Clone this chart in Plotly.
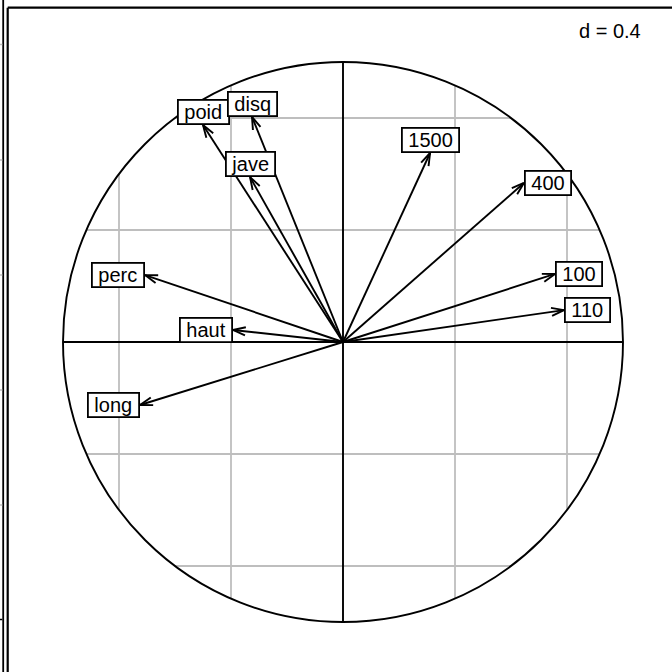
import numpy as np
import plotly.graph_objects as go

# Correlation circle data (axis 1, axis 2)
labels = ["100", "long", "poid", "haut", "400", "110", "disq", "perc", "jave", "1500"]
comp1 = [0.757, -0.725, -0.500, -0.393, 0.646, 0.789, -0.325, -0.707, -0.332, 0.311]
comp2 = [0.243, -0.225, 0.775, 0.043, 0.568, 0.114, 0.804, 0.239, 0.589, 0.675]
grid_step = 0.4

W = H = 672
cx, cy, R = 343.0, 342.0, 280.0  # pixel centre and radius of the unit circle
xr = [-cx / R, (W - cx) / R]
yr = [-(H - cy) / R, cy / R]

fig = go.Figure()
shapes = []
LW = 1.9

# grid lines clipped to the circle
gv = [k * grid_step for k in range(-int(1 / grid_step), int(1 / grid_step) + 1) if k != 0]
for v in gv:
    h = np.sqrt(1 - v * v)
    shapes.append(dict(type="line", x0=v, x1=v, y0=-h, y1=h, xref="x", yref="y",
                       line=dict(color="#BEBEBE", width=1.8), layer="below"))
    shapes.append(dict(type="line", y0=v, y1=v, x0=-h, x1=h, xref="x", yref="y",
                       line=dict(color="#BEBEBE", width=1.8), layer="below"))
# axes through origin
shapes.append(dict(type="line", x0=-1, x1=1, y0=0, y1=0, xref="x", yref="y",
                   line=dict(color="black", width=LW), layer="below"))
shapes.append(dict(type="line", x0=0, x1=0, y0=-1, y1=1, xref="x", yref="y",
                   line=dict(color="black", width=LW), layer="below"))
# circle
shapes.append(dict(type="circle", x0=-1, x1=1, y0=-1, y1=1, xref="x", yref="y",
                   line=dict(color="black", width=LW), layer="below"))

# frame (top and left edges) and neighbouring panel remnant
def px(x):
    return x / W

def py(y):
    return 1 - y / H

shapes.append(dict(type="line", xref="paper", yref="paper", x0=px(7.7), x1=1.0, y0=py(7.7), y1=py(7.7),
                   line=dict(color="black", width=2.2)))
shapes.append(dict(type="line", xref="paper", yref="paper", x0=px(7.7), x1=px(7.7), y0=py(7.7), y1=0,
                   line=dict(color="black", width=2.2)))
shapes.append(dict(type="line", xref="paper", yref="paper", x0=px(3.2), x1=px(3.2), y0=1, y1=0,
                   line=dict(color="black", width=1.8)))
for yy in [44.5, 160, 275, 390, 505]:
    shapes.append(dict(type="line", xref="paper", yref="paper", x0=0, x1=px(2.3), y0=py(yy), y1=py(yy),
                       line=dict(color="#BEBEBE", width=1.5)))
shapes.append(dict(type="line", xref="paper", yref="paper", x0=0, x1=px(2.3), y0=py(619.5), y1=py(619.5),
                   line=dict(color="black", width=1.5)))

# arrows
ax_x, ax_y = [], []
hl, ang = 0.047, np.deg2rad(18)
for x, y in zip(comp1, comp2):
    ax_x += [0, x, None]
    ax_y += [0, y, None]
    th = np.arctan2(y, x)
    for s in (1, -1):
        ax_x += [x, x - hl * np.cos(th + s * ang), None]
        ax_y += [y, y - hl * np.sin(th + s * ang), None]
fig.add_trace(go.Scatter(x=ax_x, y=ax_y, mode="lines", line=dict(color="black", width=LW),
                         hoverinfo="skip", showlegend=False))

# labels, placed as ade4's scatterutil.eti.circ does
annotations = []
for lab, x, y in zip(labels, comp1, comp2):
    if x > y and x > -y:
        xa, ya = "left", "middle"
    elif x > y and x <= -y:
        xa, ya = "center", "top"
    elif x <= y and x <= -y:
        xa, ya = "right", "middle"
    else:
        xa, ya = "center", "bottom"
    annotations.append(dict(x=x, y=y, xref="x", yref="y", text="\u00a0" + lab + "\u00a0",
                            showarrow=False, xanchor=xa, yanchor=ya,
                            font=dict(family="Liberation Sans, Arial", size=20, color="black"),
                            bgcolor="white", bordercolor="black", borderwidth=1.8, borderpad=0))

annotations.append(dict(x=px(643), y=py(31), xref="paper", yref="paper", text="d = 0.4",
                        showarrow=False, xanchor="right", yanchor="middle",
                        font=dict(family="Liberation Sans, Arial", size=20, color="black")))

fig.update_layout(
    width=W, height=H, margin=dict(l=0, r=0, t=0, b=0),
    paper_bgcolor="white", plot_bgcolor="white",
    xaxis=dict(range=xr, visible=False, showgrid=False, zeroline=False, fixedrange=True),
    yaxis=dict(range=yr, visible=False, showgrid=False, zeroline=False, fixedrange=True),
    shapes=shapes, annotations=annotations, showlegend=False,
)
fig.write_html("out.html", config={"displayModeBar": False},
               post_script="document.body.style.margin='0';document.body.style.padding='0';")
